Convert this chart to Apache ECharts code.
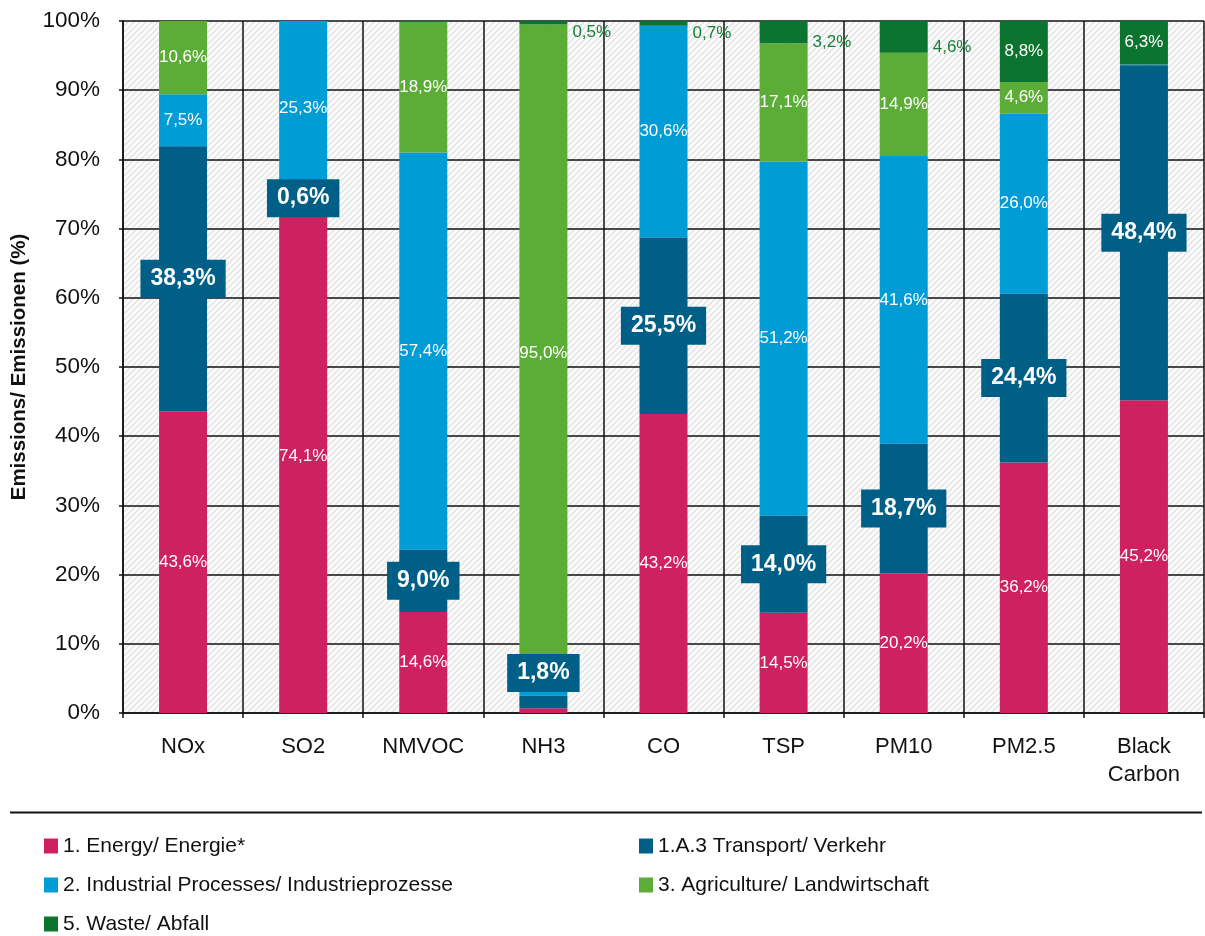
<!DOCTYPE html>
<html>
<head>
<meta charset="utf-8">
<script src="https://cdn.jsdelivr.net/npm/echarts@6/dist/echarts.min.js"></script>
<style>
html,body{margin:0;padding:0;background:#fff;}
#chart{width:1205px;height:936px;}
</style>
</head>
<body>
<div id="chart"></div>
<script>
const categories = ['NOx', 'SO2', 'NMVOC', 'NH3', 'CO', 'TSP', 'PM10', 'PM2.5', 'Black\nCarbon'];
const energy      = [43.6, 74.1, 14.6, 0.7, 43.2, 14.5, 20.2, 36.2, 45.2];
const transport   = [38.3, 0.6, 9.0, 1.8, 25.5, 14.0, 18.7, 24.4, 48.4];
const industrial  = [7.5, 25.3, 57.4, 2.0, 30.6, 51.2, 41.6, 26.0, 0.1];
const agriculture = [10.6, 0, 18.9, 95.0, 0, 17.1, 14.9, 4.6, 0];
const waste       = [0, 0, 0.1, 0.5, 0.7, 3.2, 4.6, 8.8, 6.3];
const yTicks = [0, 10, 20, 30, 40, 50, 60, 70, 80, 90, 100];

const names = {
  energy: '1. Energy/ Energie*',
  transport: '1.A.3 Transport/ Verkehr',
  industrial: '2. Industrial Processes/ Industrieprozesse',
  agriculture: '3. Agriculture/ Landwirtschaft',
  waste: '5. Waste/ Abfall'
};
const colors = {
  energy: '#cf2160',
  transport: '#005f86',
  industrial: '#009cd6',
  agriculture: '#5cad37',
  waste: '#0b7530'
};
const FONT = '"Liberation Sans", Arial, sans-serif';

function fmt(v) { return v.toFixed(1).replace('.', ',') + '%'; }

// hatch pattern
const pc = document.createElement('canvas');
pc.width = 6; pc.height = 6;
const g = pc.getContext('2d');
g.fillStyle = '#fbfbfb';
g.fillRect(0, 0, 6, 6);
g.strokeStyle = '#dedede';
g.lineWidth = 1.2;
g.beginPath();
g.moveTo(-1, 7); g.lineTo(7, -1);
g.moveTo(-1, 1); g.lineTo(1, -1);
g.moveTo(5, 7); g.lineTo(7, 5);
g.stroke();

const smallLabel = { show: true, position: 'inside', color: '#fff', fontSize: 17, fontFamily: FONT };

function simpleData(arr, minShow) {
  return arr.map(v => ({ value: v, label: { show: v >= minShow, formatter: fmt(v) } }));
}

const transportData = transport.map((v, i) => {
  const center = energy[i] + v / 2;
  return { value: v, label: { show: true, formatter: fmt(v), offset: center < 5 ? [0, -29] : [0, 0] } };
});

const wasteData = waste.map(v => {
  if (v < 0.5) return { value: v, label: { show: false } };
  if (v < 5) return { value: v, label: { show: true, formatter: fmt(v), position: 'right', distance: 5, offset: [0, 10], color: '#17803a' } };
  return { value: v, label: { show: true, formatter: fmt(v), position: 'inside', color: '#fff' } };
});

const barW = 48;
const legendText = { fontSize: 21, lineHeight: 24, color: '#111', fontFamily: FONT };
const option = {
  animation: false,
  backgroundColor: '#fff',
  textStyle: { fontFamily: FONT },
  grid: {
    left: 123, right: 1, top: 21, bottom: 223,
    show: true, borderWidth: 0,
    backgroundColor: { image: pc, repeat: 'repeat' }
  },
  xAxis: {
    type: 'category',
    data: categories,
    boundaryGap: true,
    axisLine: { show: true, lineStyle: { color: '#111', width: 1.5 } },
    axisTick: { show: true, length: 5, lineStyle: { color: '#111', width: 1.5 } },
    splitLine: { show: true, lineStyle: { color: '#111', width: 1.5 } },
    axisLabel: { color: '#111', fontSize: 22, fontFamily: FONT, margin: 20, lineHeight: 28, interval: 0 }
  },
  yAxis: {
    type: 'value',
    min: 0, max: 100, interval: 10,
    name: 'Emissions/ Emissionen (%)',
    nameLocation: 'middle',
    nameGap: 93,
    nameTextStyle: { fontSize: 20.5, fontWeight: 'bold', color: '#111', fontFamily: FONT },
    axisLine: { show: true, lineStyle: { color: '#111', width: 1.5 } },
    axisTick: { show: true, length: 4, lineStyle: { color: '#111', width: 1.5 } },
    splitLine: { show: true, lineStyle: { color: '#111', width: 1.5 } },
    axisLabel: {
      color: '#111', fontSize: 22.5, fontFamily: FONT, margin: 23,
      formatter: v => (yTicks.indexOf(v) >= 0 ? v + '%' : '')
    }
  },
  legend: [
    {
      orient: 'vertical', left: 44, top: 834, padding: 0,
      itemWidth: 14, itemHeight: 15, itemGap: 15, icon: 'rect',
      textStyle: legendText,
      data: [names.energy, names.industrial, names.waste]
    },
    {
      orient: 'vertical', left: 639, top: 834, padding: 0,
      itemWidth: 14, itemHeight: 15, itemGap: 15, icon: 'rect',
      textStyle: legendText,
      data: [names.transport, names.agriculture]
    }
  ],
  graphic: [
    { type: 'line', shape: { x1: 10, y1: 812.5, x2: 1202, y2: 812.5 }, style: { stroke: '#111', lineWidth: 2 }, silent: true }
  ],
  series: [
    {
      name: names.energy, type: 'bar', stack: 'all', barWidth: barW,
      itemStyle: { color: colors.energy },
      label: smallLabel,
      data: simpleData(energy, 3)
    },
    {
      name: names.transport, type: 'bar', stack: 'all', barWidth: barW, z: 5,
      itemStyle: { color: colors.transport },
      label: {
        show: true, position: 'inside', color: '#fff', fontSize: 23, fontWeight: 'bold', fontFamily: FONT,
        backgroundColor: colors.transport, padding: [8, 10, 7, 10]
      },
      data: transportData
    },
    {
      name: names.industrial, type: 'bar', stack: 'all', barWidth: barW,
      itemStyle: { color: colors.industrial },
      label: smallLabel,
      data: simpleData(industrial, 3)
    },
    {
      name: names.agriculture, type: 'bar', stack: 'all', barWidth: barW,
      itemStyle: { color: colors.agriculture },
      label: smallLabel,
      data: simpleData(agriculture, 3)
    },
    {
      name: names.waste, type: 'bar', stack: 'all', barWidth: barW,
      itemStyle: { color: colors.waste },
      label: { show: true, position: 'inside', color: '#fff', fontSize: 17, fontFamily: FONT },
      data: wasteData
    }
  ]
};

const chart = echarts.init(document.getElementById('chart'), null, { renderer: 'canvas' });
chart.setOption(option);
</script>
</body>
</html>
